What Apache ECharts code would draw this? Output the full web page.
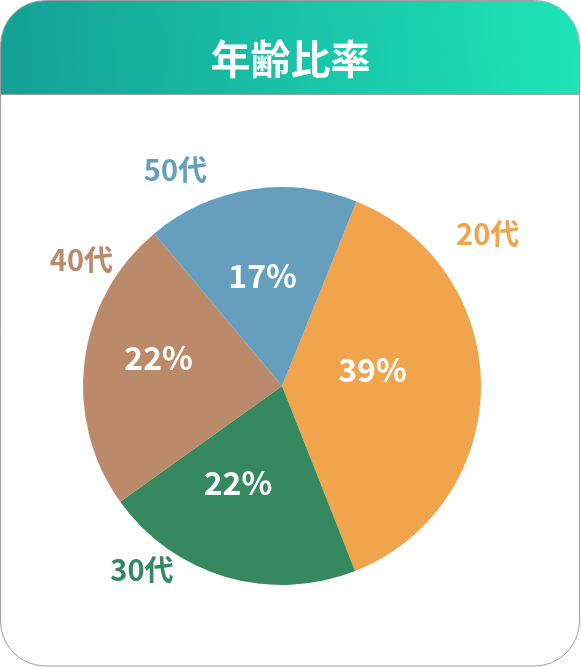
<!DOCTYPE html>
<html>
<head>
<meta charset="utf-8">
<script src="https://cdn.jsdelivr.net/npm/echarts@6/dist/echarts.min.js"></script>
<style>
  html, body { margin: 0; padding: 0; background: #fff; }
  #age { width: 581px; height: 667px; }
</style>
</head>
<body>
<div id="age"></div>
<script>
// 年代別の比率
const titleText = '年齢比率';
const ageNames = ['20代', '30代', '40代', '50代'];
const ageValues = [37.9, 21.1, 23.8, 17.2];
const ageLabels = ['39%', '22%', '22%', '17%'];

const colors = ['#f0a44c', '#36885e', '#bb8a6b', '#659fbd'];
const FONT = '"Noto Sans CJK JP", "Noto Sans", sans-serif';
const cx = 282, cy = 386;
// label places, [angle clockwise from top, distance from centre]
const innerPos = [[79.7, 92], [204.4, 106.5], [282.8, 126.6], [350, 112]];
const outerPos = [[53.5, 255.8], [217.3, 231.2], [302.1, 236.8], [333.8, 241.3]];

const placeAt = (pos) => (params) => {
	let p = pos[params.dataIndex];
	let a = p[0] * Math.PI / 180;
	return {
		x: cx + p[1] * Math.sin(a),
		y: cy - p[1] * Math.cos(a),
		align: 'center',
		verticalAlign: 'middle'
	};
};

let chart = echarts.init(document.getElementById('age'));

let option = {
	animation: false,
	title: {
		text: titleText,
		left: 'center',
		top: 31,
		textStyle: {
			color: '#fff',
			fontSize: 40,
			fontWeight: 'bold',
			fontFamily: FONT,
			lineHeight: 46
		}
	},
	graphic: [
		{
			type: 'rect',
			z: 0,
			shape: { x: 0.5, y: 0.5, width: 579, height: 665.5, r: 45 },
			style: { fill: '#fff', stroke: '#9e9e9e', lineWidth: 1 }
		},
		{
			type: 'rect',
			z: 1,
			shape: { x: 1, y: 1, width: 578, height: 93, r: [44, 44, 0, 0] },
			style: {
				fill: new echarts.graphic.LinearGradient(0, 0.3, 1, 0, [
					{ offset: 0, color: '#14a096' },
					{ offset: 1, color: '#1ee4b8' }
				])
			}
		},
		{
			type: 'line',
			z: 1,
			shape: { x1: 0.5, y1: 94.5, x2: 579.5, y2: 94.5 },
			style: { stroke: '#a0a0a0', lineWidth: 1 }
		}
	],
	series: [
		{
			type: 'pie',
			center: [cx, cy],
			radius: [0, 199],
			startAngle: 68,
			clockwise: true,
			avoidLabelOverlap: false,
			silent: true,
			data: ageNames.map((n, i) => ({
				name: n,
				value: ageValues[i],
				itemStyle: { color: colors[i] }
			})),
			label: {
				show: true,
				position: 'inside',
				formatter: (p) => ageLabels[p.dataIndex],
				color: '#fff',
				fontSize: 32,
				fontWeight: 'bold',
				fontFamily: FONT
			},
			labelLine: { show: false },
			labelLayout: placeAt(innerPos)
		},
		{
			type: 'pie',
			center: [cx, cy],
			radius: [0, 199],
			startAngle: 68,
			clockwise: true,
			avoidLabelOverlap: false,
			silent: true,
			data: ageNames.map((n, i) => ({
				name: n,
				value: ageValues[i],
				itemStyle: { color: 'transparent' },
				label: { color: colors[i] }
			})),
			label: {
				show: true,
				position: 'outside',
				formatter: '{b}',
				fontSize: 29,
				fontWeight: 'bold',
				fontFamily: FONT
			},
			labelLine: { show: false },
			labelLayout: placeAt(outerPos)
		}
	]
};

chart.setOption(option);
</script>
</body>
</html>
